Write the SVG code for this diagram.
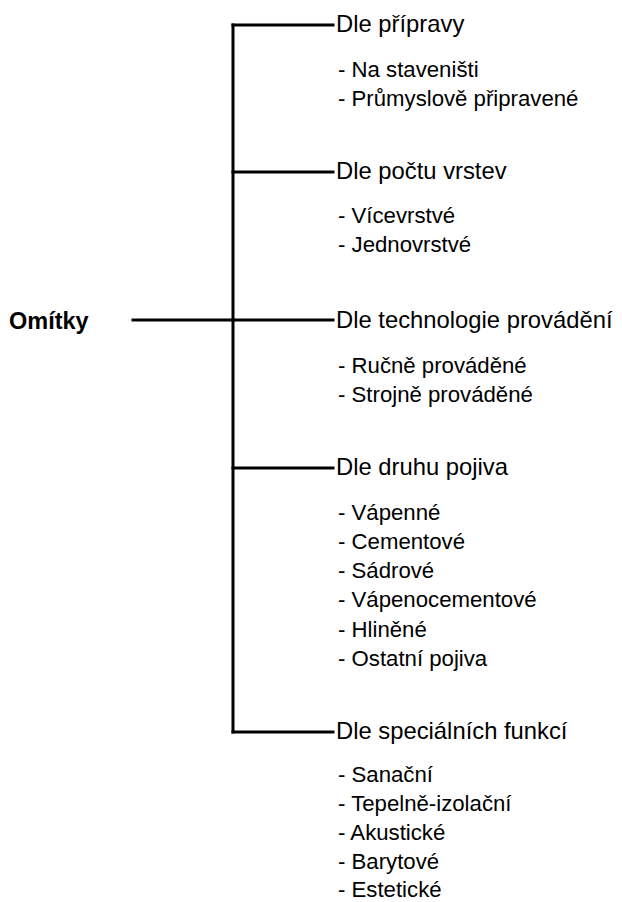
<svg xmlns="http://www.w3.org/2000/svg" width="622" height="902" viewBox="0 0 622 902">
  <style>
    .ln { stroke: #000; stroke-width: 3; fill: none; stroke-linecap: square; }
    .root { font-family: "Liberation Sans", Arial, sans-serif; font-size: 23.5px; font-weight: bold; fill: #000; }
    .hd { font-family: "Liberation Sans", Arial, sans-serif; font-size: 23.8px; fill: #000; }
    .it { font-family: "Liberation Sans", Arial, sans-serif; font-size: 22.2px; fill: #000; }
  </style>
  <rect width="622" height="902" fill="#fff"/>

  <!-- tree connectors -->
  <g id="connectors">
    <line class="ln" x1="233" y1="25" x2="233" y2="732"/>
    <line class="ln" x1="133" y1="320" x2="233" y2="320"/>
    <line class="ln" x1="233" y1="25" x2="333" y2="25"/>
    <line class="ln" x1="233" y1="172" x2="333" y2="172"/>
    <line class="ln" x1="233" y1="320" x2="333" y2="320"/>
    <line class="ln" x1="233" y1="468" x2="333" y2="468"/>
    <line class="ln" x1="233" y1="732" x2="333" y2="732"/>
  </g>

  <g id="root">
    <text class="root" x="9" y="329">Omítky</text>
  </g>

  <g id="priprava">
    <text class="hd" x="336" y="32">Dle přípravy</text>
    <text class="it" x="338" y="77">- Na staveništi</text>
    <text class="it" x="338" y="106">- Průmyslově připravené</text>
  </g>

  <g id="vrstvy">
    <text class="hd" x="336" y="179">Dle počtu vrstev</text>
    <text class="it" x="338" y="223">- Vícevrstvé</text>
    <text class="it" x="338" y="252">- Jednovrstvé</text>
  </g>

  <g id="technologie">
    <text class="hd" x="336" y="328">Dle technologie provádění</text>
    <text class="it" x="338" y="373">- Ručně prováděné</text>
    <text class="it" x="338" y="402">- Strojně prováděné</text>
  </g>

  <g id="pojivo">
    <text class="hd" x="336" y="475">Dle druhu pojiva</text>
    <text class="it" x="338" y="520">- Vápenné</text>
    <text class="it" x="338" y="549">- Cementové</text>
    <text class="it" x="338" y="578">- Sádrové</text>
    <text class="it" x="338" y="607">- Vápenocementové</text>
    <text class="it" x="338" y="637">- Hliněné</text>
    <text class="it" x="338" y="666">- Ostatní pojiva</text>
  </g>

  <g id="funkce">
    <text class="hd" x="336" y="739">Dle speciálních funkcí</text>
    <text class="it" x="338" y="782">- Sanační</text>
    <text class="it" x="338" y="811">- Tepelně-izolační</text>
    <text class="it" x="338" y="840">- Akustické</text>
    <text class="it" x="338" y="869">- Barytové</text>
    <text class="it" x="338" y="897">- Estetické</text>
  </g>
</svg>
